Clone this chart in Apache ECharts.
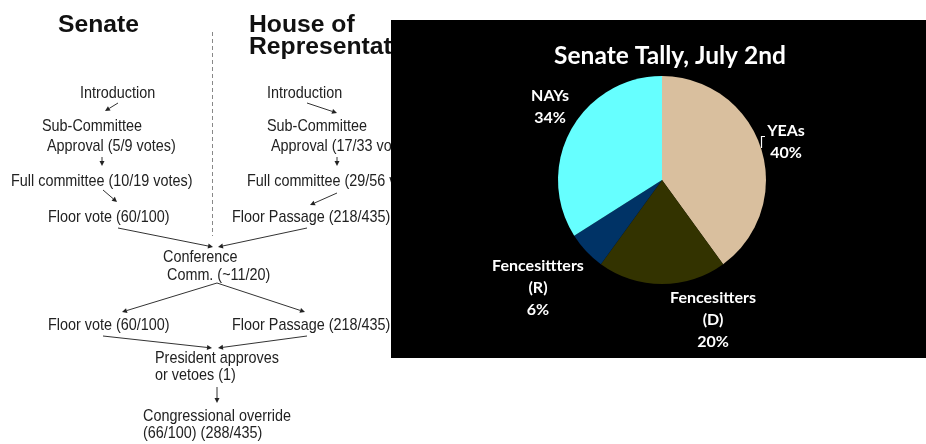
<!DOCTYPE html>
<html>
<head>
<meta charset="utf-8">
<script src="https://cdn.jsdelivr.net/npm/echarts@6/dist/echarts.min.js"></script>
<style>
html,body{margin:0;padding:0;background:#fff;}
#chart{width:926px;height:444px;}
</style>
</head>
<body>
<div id="chart"></div>
<script>
// ---- data ----
var chartTitle = 'Senate Tally, July 2nd';
var categories = ['YEAs', 'Fencesitters\n(D)', 'Fencesittters\n(R)', 'NAYs'];
var shares = [40, 20, 6, 34];
var sliceColors = ['#D9BF9E', '#333300', '#003366', '#66FFFF'];

// flowchart text (diagram content)
var senateSteps = ['Introduction', 'Sub-Committee', 'Approval (5/9 votes)', 'Full committee (10/19 votes)', 'Floor vote (60/100)'];
var houseSteps = ['Introduction', 'Sub-Committee', 'Approval (17/33 votes)', 'Full committee (29/56 votes)', 'Floor Passage (218/435)'];
var jointSteps = ['Conference', 'Comm. (~11/20)', 'Floor vote (60/100)', 'Floor Passage (218/435)', 'President approves', 'or vetoes (1)', 'Congressional override', '(66/100) (288/435)'];

// ---- layout (positions / styles) ----
var senatePos = [[80, 93], [42, 126], [47, 146], [11, 181], [48, 217]];
var housePos = [[267, 93], [267, 126], [271, 146], [247, 181], [232, 217]];
var jointPos = [[163, 257], [167, 275], [48, 325], [232, 325], [155, 358], [155, 375], [143, 416], [143, 433]];
var arrows = [
  [118, 103, 105, 111], [102, 157, 102, 166], [103, 190, 117, 202],
  [307, 103, 337, 113], [337, 157, 337, 166], [337, 193, 310, 205],
  [118, 228, 213, 247], [307, 228, 218, 247],
  [217, 283, 122, 312], [217, 283, 305, 312],
  [103, 336, 212, 348], [307, 336, 218, 348],
  [217, 387, 217, 403]
];
var labelPos = [[786, 142], [713, 320], [538, 288], [550, 107]];

var textColor = '#222';
var graphics = [];

function addText(str, x, y) {
  graphics.push({
    type: 'text', x: x, y: y, z: 1, scaleY: 1.15,
    style: { text: str, fill: textColor, font: '14.4px "Liberation Sans", Arial, sans-serif', textAlign: 'left', textVerticalAlign: 'middle' }
  });
}
senateSteps.forEach(function (s, i) { addText(s, senatePos[i][0], senatePos[i][1]); });
houseSteps.forEach(function (s, i) { addText(s, housePos[i][0], housePos[i][1]); });
jointSteps.forEach(function (s, i) { addText(s, jointPos[i][0], jointPos[i][1]); });

function addArrow(a) {
  var x1 = a[0], y1 = a[1], x2 = a[2], y2 = a[3];
  var dx = x2 - x1, dy = y2 - y1, len = Math.sqrt(dx * dx + dy * dy);
  var ux = dx / len, uy = dy / len;
  var hl = 5, hw = 2.5;
  var bx = x2 - ux * hl, by = y2 - uy * hl;
  graphics.push({ type: 'line', z: 1, shape: { x1: x1, y1: y1, x2: bx, y2: by }, style: { stroke: '#333', lineWidth: 1 } });
  graphics.push({ type: 'polygon', z: 1, shape: { points: [[x2, y2], [bx - uy * hw, by + ux * hw], [bx + uy * hw, by - ux * hw]] }, style: { fill: '#222' } });
}
arrows.forEach(addArrow);

// headings
var headFont = 'bold 24.7px "Liberation Sans", Arial, sans-serif';
graphics.push({ type: 'text', x: 58, y: 25, z: 1, style: { text: 'Senate', fill: '#111', font: headFont, textAlign: 'left', textVerticalAlign: 'middle' } });
graphics.push({ type: 'text', x: 249, y: 25, z: 1, style: { text: 'House of', fill: '#111', font: headFont, textAlign: 'left', textVerticalAlign: 'middle' } });
graphics.push({ type: 'text', x: 249, y: 47, z: 1, style: { text: 'Representatives', fill: '#111', font: headFont, textAlign: 'left', textVerticalAlign: 'middle' } });

// dashed divider
graphics.push({ type: 'line', z: 1, shape: { x1: 212.5, y1: 32, x2: 212.5, y2: 236 }, style: { stroke: '#888', lineWidth: 1, lineDash: [4, 3] } });

// black panel
graphics.push({ type: 'rect', z: 5, shape: { x: 391, y: 20, width: 535, height: 338 }, style: { fill: '#000' } });

// YEAs small leader bracket
graphics.push({ type: 'polyline', z: 6, shape: { points: [[761.5, 148], [761.5, 136.5], [765, 136.5]] }, style: { stroke: '#fff', lineWidth: 1.2, fill: null } });

var chart = echarts.init(document.getElementById('chart'), null, { renderer: 'canvas' });
chart.setOption({
  animation: false,
  backgroundColor: '#fff',
  graphic: { elements: graphics },
  title: {
    text: chartTitle,
    left: 665, top: 51,
    textAlign: 'center', textVerticalAlign: 'middle',
    z: 10,
    textStyle: { color: '#fff', fontFamily: 'Lato', fontWeight: 'bold', fontSize: 24.5 }
  },
  series: [{
    type: 'pie',
    z: 10,
    center: [662, 180],
    radius: 104,
    startAngle: 90,
    clockwise: true,
    silent: true,
    data: categories.map(function (c, i) {
      return { name: c, value: shares[i], itemStyle: { color: sliceColors[i] } };
    }),
    itemStyle: { borderWidth: 0 },
    label: {
      show: true,
      position: 'outside',
      color: '#fff',
      fontFamily: 'Lato',
      fontWeight: 'bold',
      fontSize: 16,
      lineHeight: 22,
      align: 'center',
      formatter: function (p) { return p.name + '\n' + p.value + '%'; }
    },
    labelLine: { show: false },
    labelLayout: function (p) {
      var pos = labelPos[p.dataIndex];
      return { x: pos[0], y: pos[1], align: 'center', verticalAlign: 'middle' };
    }
  }]
});
</script>
</body>
</html>
